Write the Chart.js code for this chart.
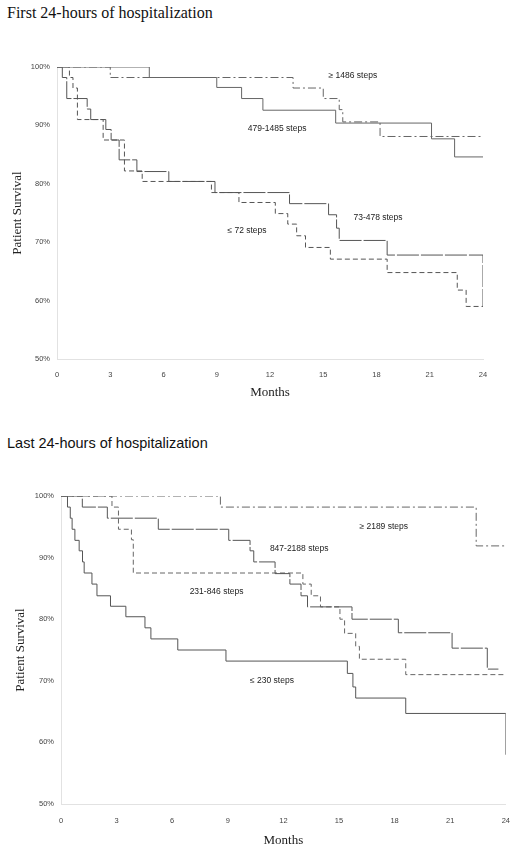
<!DOCTYPE html>
<html>
<head>
<meta charset="utf-8">
<script src="https://cdn.jsdelivr.net/npm/chart.js@4.4.0/dist/chart.umd.min.js"></script>
<style>
  body { margin: 0; background: #fff; width: 522px; height: 851px; position: relative; overflow: hidden; }
  .ttl { position: absolute; left: 7px; color: #111; white-space: nowrap; }
  .box { position: absolute; left: 0; width: 522px; }
</style>
</head>
<body>
<div class="ttl" style="top:4px;font:16px 'Liberation Serif','Times New Roman',serif">First 24-hours of hospitalization</div>
<div class="box" style="top:40px;height:370px"><canvas id="first"></canvas></div>
<div class="ttl" style="top:435px;font:14.5px 'Liberation Sans',Arial,sans-serif">Last 24-hours of hospitalization</div>
<div class="box" style="top:465px;height:386px"><canvas id="last"></canvas></div>
<script>
// months ticks / survival ticks
let month_ticks = [0, 3, 6, 9, 12, 15, 18, 21, 24];
let survival_ticks = [50, 60, 70, 80, 90, 100];

// first 24 hours - step times (months) and survival (%)
let first_high_t = [0, 3.0, 13.3, 15.0, 15.9, 16.1, 18.2, 24];
let first_high_s = [100, 98.2, 96.4, 94.6, 92.7, 90.6, 88.1, 88.1];

let first_mid_t = [0, 5.2, 9.0, 10.4, 11.6, 15.7, 21.1, 22.4, 24];
let first_mid_s = [100, 98.2, 96.5, 94.6, 92.6, 90.4, 87.7, 84.6, 84.6];

let first_low_t = [0, 0.3, 0.55, 1.7, 1.9, 2.75, 3.05, 3.5, 4.5, 6.3, 8.9, 13.1, 15.3, 15.75, 15.9, 18.6, 24, 24];
let first_low_s = [100, 98.2, 94.6, 92.8, 91.0, 89.3, 87.5, 84.1, 82.1, 80.4, 78.5, 76.6, 74.7, 72.4, 70.3, 67.8, 67.8, 59.0];

let first_lowest_t = [0, 0.7, 0.9, 1.15, 2.6, 3.8, 4.8, 8.7, 10.25, 12.3, 13.0, 13.5, 14.0, 15.4, 18.6, 22.55, 23.05, 24];
let first_lowest_s = [100, 98.2, 96.4, 91.0, 87.5, 82.2, 80.4, 78.5, 76.8, 74.9, 73.1, 71.1, 69.1, 67.1, 64.8, 61.8, 59.0, 59.0];

// last 24 hours
let last_high_t = [0, 8.6, 22.4, 24];
let last_high_s = [100, 98.2, 91.9, 91.9];

let last_mid_t = [0, 1.15, 2.5, 5.25, 9.05, 10.2, 10.4, 11.55, 12.35, 12.95, 13.3, 15.7, 18.2, 21.1, 23.0, 23.6];
let last_mid_s = [100, 98.2, 96.4, 94.6, 92.8, 91.1, 89.3, 87.4, 85.7, 83.8, 82.0, 80.0, 77.8, 75.3, 71.9, 71.9];

let last_low_t = [0, 2.75, 3.1, 3.8, 3.9, 13.05, 13.5, 14.0, 15.05, 15.3, 15.9, 16.1, 18.6, 24];
let last_low_s = [100, 98.2, 94.6, 92.9, 87.5, 85.7, 83.8, 82.0, 80.0, 77.7, 75.6, 73.5, 71.0, 71.0];

let last_lowest_t = [0, 0.35, 0.5, 0.6, 0.75, 0.98, 1.16, 1.25, 1.67, 1.94, 2.67, 3.5, 4.53, 4.85, 6.3, 8.9, 15.45, 15.75, 15.9, 18.6, 24, 24];
let last_lowest_s = [100, 98.2, 96.4, 94.6, 92.8, 91.1, 89.3, 87.5, 85.7, 83.8, 82.1, 80.4, 78.6, 76.8, 75.0, 73.2, 71.2, 69.0, 67.2, 64.7, 64.7, 58.0];

// group labels: text, month, survival
let first_labels = [
  ["\u2265 1486 steps", 15.3, 98.5],
  ["479-1485 steps", 10.75, 89.4],
  ["73-478 steps", 16.7, 74.2],
  ["\u2264 72 steps", 9.6, 72.0]
];
let last_labels = [
  ["\u2265 2189 steps", 16.1, 95.0],
  ["847-2188 steps", 11.27, 91.4],
  ["231-846 steps", 6.94, 84.5],
  ["\u2264 230 steps", 10.2, 70.0]
];

const sans = "'Liberation Sans', Arial, sans-serif";
const serif = "'Liberation Serif', 'Times New Roman', serif";

function toPoints(t, s) {
  return t.map((m, i) => ({ x: m, y: s[i] }));
}

// kaplan-meier style: stay flat until the event, then drop
function stepSet(t, s, dash, color) {
  return {
    data: toPoints(t, s),
    stepped: "before",
    borderColor: color,
    borderWidth: 1,
    borderDash: dash,
    pointRadius: 0,
    fill: false,
  };
}

//draws the group names next to the curves
const groupLabels = {
  id: "groupLabels",
  afterDatasetsDraw(chart, args, opts) {
    const { ctx, scales: { x, y } } = chart;
    ctx.save();
    ctx.font = "8.5px " + sans;
    ctx.fillStyle = "#222";
    ctx.textBaseline = "middle";
    opts.items.forEach(([text, m, s]) => {
      ctx.fillText(text, x.getPixelForValue(m), y.getPixelForValue(s));
    });
    ctx.restore();
  },
};

function survivalChart(id, sets, labels, lay) {
  new Chart(document.getElementById(id), {
    type: "line",
    data: { datasets: sets },
    plugins: [groupLabels],
    options: {
      responsive: true,
      maintainAspectRatio: false,
      animation: false,
      layout: { padding: { top: lay.top, right: lay.right, left: 0, bottom: 0 } },
      plugins: {
        legend: { display: false },
        tooltip: { enabled: false },
        groupLabels: { items: labels },
      },
      scales: {
        x: {
          type: "linear",
          min: 0,
          max: 24,
          afterBuildTicks: (s) => { s.ticks = month_ticks.map((v) => ({ value: v })); },
          afterFit: (s) => { s.height = lay.xh; },
          grid: { display: false, drawTicks: false },
          border: { color: "#e2e2e2", dash: [2, 2] },
          ticks: { font: { size: 7.5, family: sans }, color: "#444", padding: lay.xpad, maxRotation: 0 },
          title: { display: true, text: "Months", font: { size: 13, family: serif }, color: "#222", padding: { top: 0, bottom: lay.tpad } },
        },
        y: {
          min: 50,
          max: 100,
          afterBuildTicks: (s) => { s.ticks = survival_ticks.map((v) => ({ value: v })); },
          afterFit: (s) => { s.width = lay.yw; },
          grid: { display: false, drawTicks: false },
          border: { color: "#e2e2e2", dash: [2, 2] },
          ticks: { font: { size: 7.5, family: sans }, color: "#444", padding: 7, callback: (v) => v + "%" },
          title: { display: true, text: "Patient Survival", font: { size: 13, family: serif }, color: "#222", padding: { top: lay.ypad, bottom: 0 } },
        },
      },
    },
  });
}

const dashDot = [8, 3, 2, 3];
const dashed = [5, 3];
const longDash = [22, 2];

survivalChart("first", [
  stepSet(first_high_t, first_high_s, dashDot, "#666"),
  stepSet(first_mid_t, first_mid_s, [], "#666"),
  stepSet(first_low_t, first_low_s, longDash, "#555"),
  stepSet(first_lowest_t, first_lowest_s, dashed, "#555"),
], first_labels, { top: 27, right: 39, yw: 57, xh: 51, xpad: 11, tpad: 10, ypad: 10 });

survivalChart("last", [
  stepSet(last_high_t, last_high_s, dashDot, "#666"),
  stepSet(last_mid_t, last_mid_s, longDash, "#555"),
  stepSet(last_low_t, last_low_s, dashed, "#666"),
  stepSet(last_lowest_t, last_lowest_s, [], "#555"),
], last_labels, { top: 31, right: 12, yw: 61, xh: 47, xpad: 12, tpad: 3, ypad: 13 });
</script>
</body>
</html>
